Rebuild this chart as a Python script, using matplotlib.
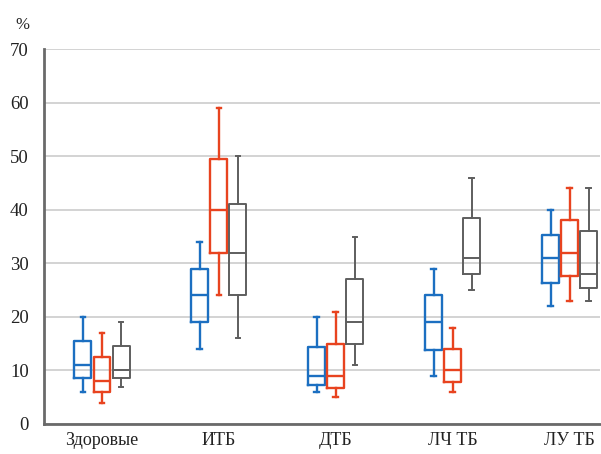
import matplotlib
matplotlib.use('Agg')
import matplotlib.pyplot as plt
import numpy as np

categories = ['Здоровые', 'ИТБ', 'ДТБ', 'ЛЧ ТБ', 'ЛУ ТБ']

# blue series: whisker low, q1, median, q3, whisker high
blue_low = [6, 14, 6, 9, 22]
blue_q1 = [8.5, 19, 7.3, 13.9, 26.4]
blue_med = [11, 24, 9, 19, 31]
blue_q3 = [15.5, 29, 14.4, 24, 35.3]
blue_high = [20, 34, 20, 29, 40]

red_low = [4, 24, 5, 6, 23]
red_q1 = [6, 32, 6.8, 7.8, 27.6]
red_med = [8, 40, 9, 10, 32]
red_q3 = [12.5, 49.5, 14.9, 14, 38]
red_high = [17, 59, 21, 18, 44]

gray_low = [7, 16, 11, 25, 23]
gray_q1 = [8.5, 24, 15, 28, 25.3]
gray_med = [10, 32, 19, 31, 28]
gray_q3 = [14.5, 41, 27, 38.5, 36]
gray_high = [19, 50, 35, 46, 44]

y_ticks = [0, 10, 20, 30, 40, 50, 60, 70]

series = [
    (blue_low, blue_q1, blue_med, blue_q3, blue_high, '#1c6fc1', 1.7),
    (red_low, red_q1, red_med, red_q3, red_high, '#e8431f', 1.7),
    (gray_low, gray_q1, gray_med, gray_q3, gray_high, '#5e5e5e', 1.4),
]

plt.rcParams['font.family'] = ['Liberation Serif', 'DejaVu Serif']

fig = plt.figure(figsize=(6.01, 4.54), dpi=100)
ax = fig.add_axes([44 / 601, 1 - 424 / 454, 556 / 601, 375 / 454])

x = np.arange(1, len(categories) + 1)
offsets = [-0.163, 0.0, 0.163]

for (lo, q1, med, q3, hi, color, lw), off in zip(series, offsets):
    stats = []
    for i in range(len(categories)):
        stats.append({'whislo': lo[i], 'q1': q1[i], 'med': med[i],
                      'q3': q3[i], 'whishi': hi[i], 'fliers': []})
    line = dict(color=color, linewidth=lw)
    ax.bxp(stats, positions=x + off, widths=0.145, showfliers=False,
           boxprops=line, medianprops=line, whiskerprops=line,
           capprops=dict(color=color, linewidth=lw), capwidths=0.04,
           manage_ticks=False)

ax.set_xlim(0.504, 5.26)
ax.set_ylim(0, 70)
ax.set_yticks(y_ticks)
ax.set_xticks(x)
ax.set_xticklabels(categories)
ax.tick_params(axis='both', length=0, colors='#222222')
ax.tick_params(axis='x', pad=6, labelsize=13)
ax.tick_params(axis='y', pad=11, labelsize=13.5)
ax.yaxis.grid(True, color='#c8c8c8', linewidth=1.1)
ax.set_axisbelow(True)
for s in ['top', 'right']:
    ax.spines[s].set_visible(False)
for s in ['left', 'bottom']:
    ax.spines[s].set_color('#6a6a6a')
    ax.spines[s].set_linewidth(2)

fig.text(22 / 601, 1 - 25 / 454, '%', fontsize=12, ha='center', va='center', color='#222222')

fig.savefig('out.png', dpi=100)
